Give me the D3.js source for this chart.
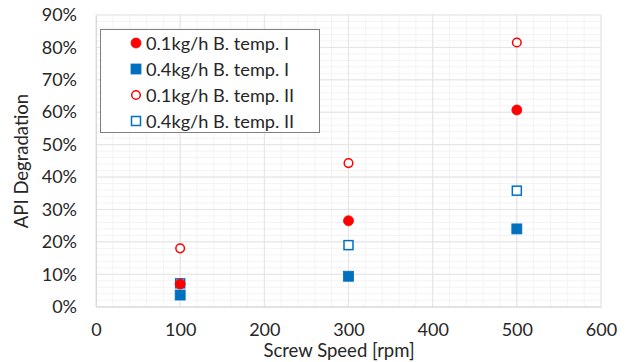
<!DOCTYPE html>
<html><head><meta charset="utf-8">
<script src="https://cdn.jsdelivr.net/npm/d3@7"></script>
<style>body{margin:0;background:#fff}svg{display:block}text{font-family:Lato,"Open Sans",sans-serif;fill:#262626}</style>
</head><body><svg id="c" width="629" height="362"></svg>
<script>
const speeds = [100, 300, 500];
const seriesNames = ["0.1kg/h B. temp. I", "0.4kg/h B. temp. I", "0.1kg/h B. temp. II", "0.4kg/h B. temp. II"];
const red01I = [0.070, 0.265, 0.607];
const blue04I = [0.036, 0.094, 0.240];
const red01II = [0.180, 0.443, 0.815];
const blue04II = [0.072, 0.190, 0.358];
const xTicks = [0, 100, 200, 300, 400, 500, 600];
const yTicks = [0, 0.1, 0.2, 0.3, 0.4, 0.5, 0.6, 0.7, 0.8, 0.9];

const series = [
  {name: seriesNames[0], vals: red01I, color: "#ff0000", shape: "circle", fill: true},
  {name: seriesNames[1], vals: blue04I, color: "#0070c0", shape: "square", fill: true},
  {name: seriesNames[2], vals: red01II, color: "#ff0000", shape: "circle", fill: false},
  {name: seriesNames[3], vals: blue04II, color: "#0070c0", shape: "square", fill: false}
];

const svg = d3.select("#c");
const L = 96, R = 601, T = 15, B = 306.7;
const x = d3.scaleLinear().domain([0, 600]).range([L, R]);
const y = d3.scaleLinear().domain([0, 0.9]).range([B, T]);

const g = svg.append("g");
g.selectAll(".mx").data(d3.range(0, 601, 20)).join("line")
  .attr("x1", d => x(d)).attr("x2", d => x(d)).attr("y1", T).attr("y2", B)
  .attr("stroke", "#f3f3f3").attr("stroke-width", 1);
g.selectAll(".my").data(d3.range(0, 0.9001, 0.02)).join("line")
  .attr("y1", d => y(d)).attr("y2", d => y(d)).attr("x1", L).attr("x2", R)
  .attr("stroke", "#f3f3f3").attr("stroke-width", 1);
g.selectAll(".Mx").data(xTicks).join("line")
  .attr("x1", d => x(d)).attr("x2", d => x(d)).attr("y1", T).attr("y2", B)
  .attr("stroke", "#e3e3e3").attr("stroke-width", 1);
g.selectAll(".My").data(yTicks).join("line")
  .attr("y1", d => y(d)).attr("y2", d => y(d)).attr("x1", L).attr("x2", R)
  .attr("stroke", "#e3e3e3").attr("stroke-width", 1);

const xa = svg.append("g").attr("transform", `translate(0,${B})`)
  .call(d3.axisBottom(x).tickValues(xTicks).tickSize(0).tickPadding(17));
xa.select(".domain").attr("stroke", "#d9d9d9");
xa.selectAll("text").attr("font-size", 18).attr("fill", "#262626");
const ya = svg.append("g").attr("transform", `translate(${L},0)`)
  .call(d3.axisLeft(y).tickValues(yTicks).tickFormat(d3.format(".0%")).tickSize(0).tickPadding(19));
ya.select(".domain").attr("stroke", "#d9d9d9");
ya.selectAll("text").attr("font-size", 18).attr("fill", "#262626");

svg.append("text").attr("x", 339).attr("y", 357).attr("text-anchor", "middle")
  .attr("font-size", 18.5).text("Screw Speed [rpm]");
svg.append("text").attr("transform", "translate(28,161) rotate(-90)").attr("text-anchor", "middle")
  .attr("font-size", 18.5).text("API Degradation");

function marker(sel, s) {
  if (s.shape === "circle") {
    sel.append("circle").attr("r", s.fill ? 5 : 4.3)
      .attr("fill", s.fill ? s.color : "#fff").attr("stroke", s.color).attr("stroke-width", s.fill ? 0.8 : 1.5);
  } else {
    const h = s.fill ? 5 : 4.5;
    sel.append("rect").attr("x", -h).attr("y", -h).attr("width", 2*h).attr("height", 2*h)
      .attr("fill", s.fill ? s.color : "#fff").attr("stroke", s.color).attr("stroke-width", s.fill ? 0.8 : 1.5);
  }
}

const drawOrder = [3, 2, 1, 0];
drawOrder.forEach(i => {
  const s = series[i];
  s.vals.forEach((v, j) => {
    const m = svg.append("g").attr("transform", `translate(${x(speeds[j])},${y(v)})`);
    marker(m, s);
  });
});

const lg = svg.append("g");
lg.append("rect").attr("x", 100.5).attr("y", 29.5).attr("width", 219).attr("height", 103)
  .attr("fill", "#fff").attr("stroke", "#7f7f7f").attr("stroke-width", 1);
series.forEach((s, i) => {
  const cy = 43 + i * 26;
  const m = lg.append("g").attr("transform", `translate(136,${cy})`);
  marker(m, s);
  lg.append("text").attr("x", 146).attr("y", cy + 6.5).attr("font-size", 18.2).text(s.name);
});
</script></body></html>
